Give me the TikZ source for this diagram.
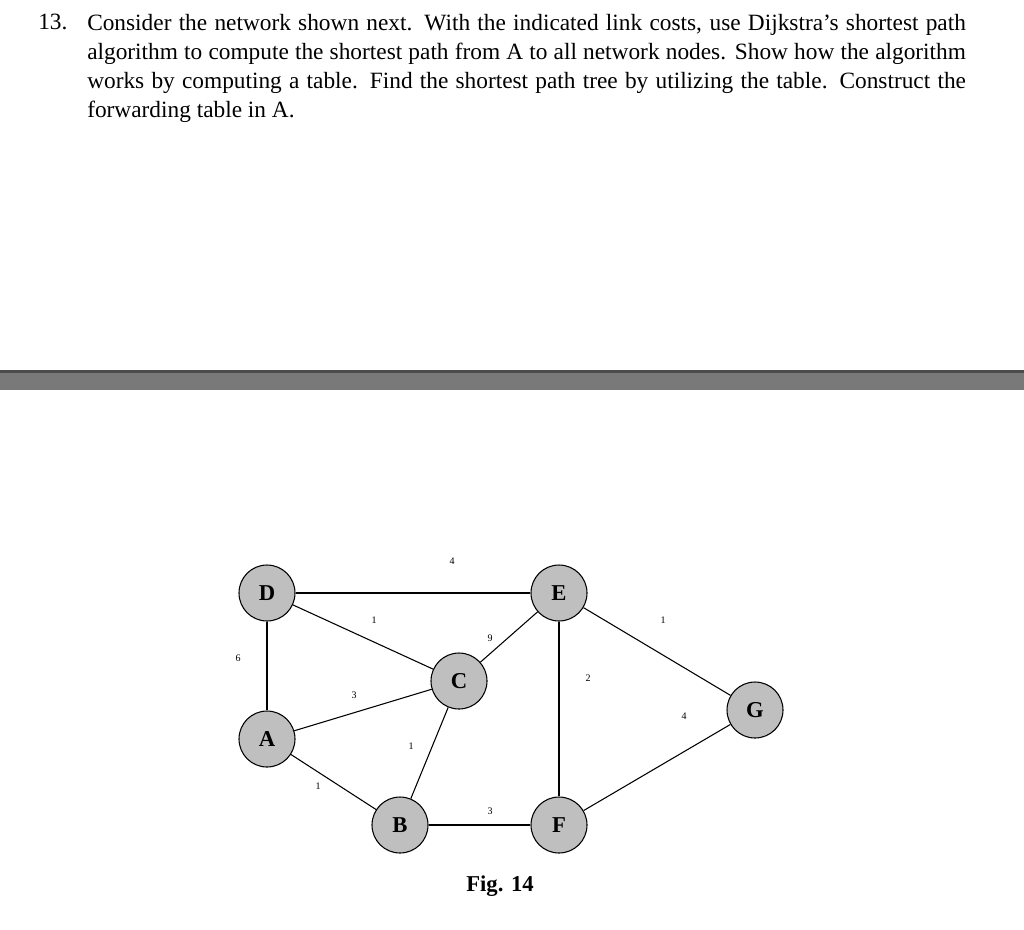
\documentclass[tikz,border=0pt]{standalone}
\usepackage{fontspec}
\setmainfont{Liberation Serif}
\begin{document}
\begin{tikzpicture}[x=0.75pt,y=-0.75pt,
  rn/.style={circle,draw,thick,fill=gray!50,minimum size=42pt,inner sep=0pt,font=\fontsize{17}{17}\selectfont\bfseries},
  lk/.style={thick},
  cost/.style={font=\fontsize{7.5}{8}\selectfont}]
\useasboundingbox (0,0) rectangle (1024,929);
\fill[white] (0,0) rectangle (1024,929);
\node[anchor=north west,inner sep=0pt,font=\fontsize{17.5}{21.8}\selectfont] (num) at (38,14) {13.};
\node[anchor=north west,inner sep=0pt,text width=659pt,align=justify,font=\fontsize{17.5}{21.8}\selectfont] (q) at (87,14)
{Consider the network shown next. With the indicated link costs, use Dijkstra’s shortest path algorithm to compute the shortest path from A to all network nodes. Show how the algorithm works by computing a table. Find the shortest path tree by utilizing the table. Construct the forwarding table in A.};
\fill[gray!95!black] (0,370) rectangle (1024,390);
\fill[gray!60!black] (0,370) rectangle (1024,373);
\node[rn] (D) at (267,593) {D};
\node[rn] (E) at (559,593) {E};
\node[rn] (C) at (459,681) {C};
\node[rn] (A) at (267,739) {A};
\node[rn] (B) at (400,825) {B};
\node[rn] (F) at (559,825) {F};
\node[rn] (G) at (755,710) {G};
\draw[lk] (D)--(E); \draw[lk] (D)--(C); \draw[lk] (D)--(A);
\draw[lk] (A)--(C); \draw[lk] (A)--(B); \draw[lk] (C)--(B);
\draw[lk] (C)--(E); \draw[lk] (E)--(F); \draw[lk] (E)--(G);
\draw[lk] (B)--(F); \draw[lk] (F)--(G);
\node[cost] (l1) at (452,561) {4};
\node[cost] (l2) at (374,620) {1};
\node[cost] (l3) at (490,638) {9};
\node[cost] (l4) at (238,658) {6};
\node[cost] (l5) at (354,695) {3};
\node[cost] (l6) at (588,678) {2};
\node[cost] (l7) at (663,620) {1};
\node[cost] (l8) at (684,716) {4};
\node[cost] (l9) at (411,746) {1};
\node[cost] (l10) at (318,786) {1};
\node[cost] (l11) at (490,811) {3};
\node[font=\fontsize{17}{17}\selectfont\bfseries] (fig) at (500,886) {Fig. 14};
\end{tikzpicture}
\end{document}
